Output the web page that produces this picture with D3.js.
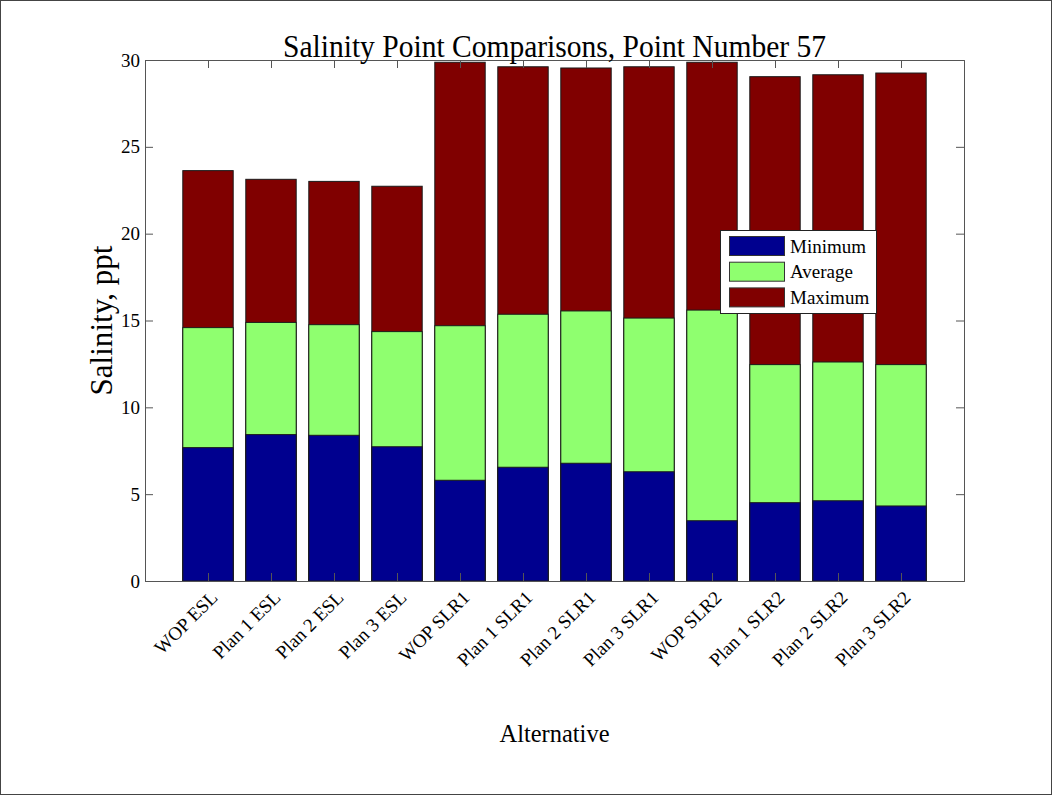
<!DOCTYPE html>
<html>
<head>
<meta charset="utf-8">
<script src="https://cdn.jsdelivr.net/npm/d3@7"></script>
<style>
  html, body { margin: 0; padding: 0; background: #fff; }
  svg { display: block; font-family: "Liberation Serif", "Times New Roman", serif; }
</style>
</head>
<body>
<svg id="chart" width="1052" height="795"></svg>
<script>
// Alternatives along the x axis
const categories = ["WOP ESL", "Plan 1 ESL", "Plan 2 ESL", "Plan 3 ESL",
                    "WOP SLR1", "Plan 1 SLR1", "Plan 2 SLR1", "Plan 3 SLR1",
                    "WOP SLR2", "Plan 1 SLR2", "Plan 2 SLR2", "Plan 3 SLR2"];

// Salinity (ppt) at point 57
const minimumValues = [7.68, 8.43, 8.39, 7.73, 5.80, 6.55, 6.78, 6.29, 3.47, 4.51, 4.62, 4.32];
const averageValues = [14.59, 14.89, 14.76, 14.36, 14.70, 15.36, 15.55, 15.14, 15.60, 12.46, 12.61, 12.46];
const maximumValues = [23.63, 23.13, 23.01, 22.73, 29.87, 29.61, 29.54, 29.61, 29.87, 29.04, 29.15, 29.25];

const yTicks = [0, 5, 10, 15, 20, 25, 30];

const seriesNames = ["Minimum", "Average", "Maximum"];
const seriesColors = { Minimum: "#00008f", Average: "#8fff6f", Maximum: "#800000" };

const svg = d3.select("#chart");
const W = 1052, H = 795;
const plot = { left: 145, right: 964, top: 60, bottom: 581 };
const cx = (plot.left + plot.right) / 2;

// outer frame of the figure
svg.append("rect")
  .attr("x", 0.5).attr("y", 0.5).attr("width", W - 1).attr("height", H - 1)
  .attr("fill", "#fff").attr("stroke", "#444").attr("stroke-width", 1);

const x = d3.scaleLinear().domain([0, categories.length + 1]).range([plot.left, plot.right]);
const y = d3.scaleLinear().domain([0, 30]).range([plot.bottom, plot.top]);
const barW = (x(1) - x(0)) * 0.8;

// overlapping bars: maximum behind, then average, then minimum in front
const layers = [
  { name: "Maximum", values: maximumValues },
  { name: "Average", values: averageValues },
  { name: "Minimum", values: minimumValues }
];

const g = svg.append("g");
layers.forEach(layer => {
  g.selectAll(null)
    .data(layer.values)
    .enter().append("rect")
    .attr("x", (d, i) => x(i + 1) - barW / 2)
    .attr("y", d => y(d))
    .attr("width", barW)
    .attr("height", d => y(0) - y(d))
    .attr("fill", seriesColors[layer.name])
    .attr("stroke", "#1a1a1a")
    .attr("stroke-width", 1);
});

// axes box with inward ticks on all four sides
const axisColor = "#555";
const tickLen = 8;
const xTickVals = d3.range(1, categories.length + 1);

const bottomAxis = d3.axisBottom(x).tickValues(xTickVals).tickSize(-tickLen).tickFormat("");
const topAxis = d3.axisTop(x).tickValues(xTickVals).tickSize(-tickLen).tickFormat("");
const leftAxis = d3.axisLeft(y).tickValues(yTicks).tickSize(-tickLen).tickPadding(5).tickFormat(d3.format("d"));
const rightAxis = d3.axisRight(y).tickValues(yTicks).tickSize(-tickLen).tickFormat("");

function styleAxis(sel) {
  sel.select(".domain").attr("stroke", axisColor);
  sel.selectAll(".tick line").attr("stroke", axisColor);
  sel.selectAll(".tick text").attr("fill", "#000").attr("font-size", 19)
    .attr("font-family", "Liberation Serif, Times New Roman, serif");
}

svg.append("g").attr("transform", `translate(0,${plot.bottom})`).call(bottomAxis).call(styleAxis);
svg.append("g").attr("transform", `translate(0,${plot.top})`).call(topAxis).call(styleAxis);
svg.append("g").attr("transform", `translate(${plot.left},0)`).call(leftAxis).call(styleAxis);
svg.append("g").attr("transform", `translate(${plot.right},0)`).call(rightAxis).call(styleAxis);

// rotated category labels
svg.append("g").selectAll("text")
  .data(categories)
  .enter().append("text")
  .attr("transform", (d, i) => `translate(${x(i + 1) + 6},${plot.bottom + 13}) rotate(-45)`)
  .attr("text-anchor", "end")
  .attr("dy", "0.35em")
  .attr("font-size", 19)
  .attr("fill", "#000")
  .text(d => d);

// title and axis labels
svg.append("text")
  .attr("x", cx).attr("y", 57)
  .attr("text-anchor", "middle").attr("font-size", 32).attr("fill", "#000")
  .attr("textLength", 543).attr("lengthAdjust", "spacingAndGlyphs")
  .text("Salinity Point Comparisons, Point Number 57");

svg.append("text")
  .attr("transform", `translate(112,${(plot.top + plot.bottom) / 2}) rotate(-90)`)
  .attr("text-anchor", "middle").attr("font-size", 32).attr("fill", "#000")
  .attr("textLength", 150).attr("lengthAdjust", "spacingAndGlyphs")
  .text("Salinity, ppt");

svg.append("text")
  .attr("x", cx).attr("y", 742)
  .attr("text-anchor", "middle").attr("font-size", 26).attr("fill", "#000")
  .attr("textLength", 110).attr("lengthAdjust", "spacingAndGlyphs")
  .text("Alternative");

// legend
const legend = svg.append("g").attr("transform", "translate(720,230)");
legend.append("rect")
  .attr("x", 0.5).attr("y", 0.5).attr("width", 156).attr("height", 83)
  .attr("fill", "#fff").attr("stroke", "#222").attr("stroke-width", 1);
seriesNames.forEach((name, i) => {
  const row = legend.append("g").attr("transform", `translate(9,${6 + i * 25.7})`);
  row.append("rect")
    .attr("x", 0.5).attr("y", 0.5).attr("width", 55).attr("height", 19)
    .attr("fill", seriesColors[name]).attr("stroke", "#333");
  row.append("text")
    .attr("x", 61).attr("y", 10).attr("dy", "0.35em")
    .attr("font-size", 19).attr("fill", "#000")
    .text(name);
});
</script>
</body>
</html>
